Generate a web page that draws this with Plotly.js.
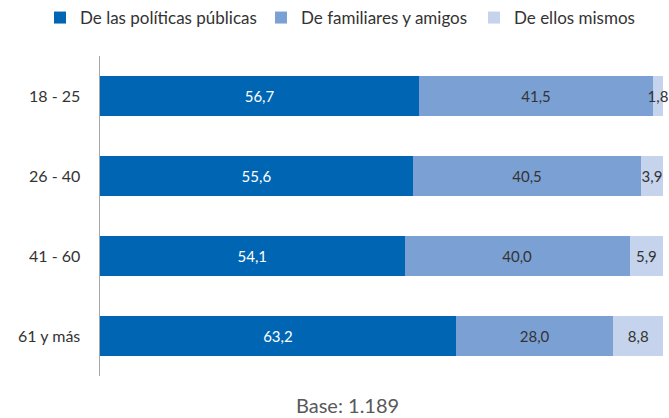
<!DOCTYPE html>
<html>
<head>
<meta charset="utf-8">
<script src="https://cdn.plot.ly/plotly-3.0.1.min.js"></script>
<style>html,body{margin:0;padding:0;background:#fff;}#chart{width:669px;height:418px;}</style>
</head>
<body>
<div id="chart"></div>
<script>
const categories = ["18 - 25", "26 - 40", "41 - 60", "61 y más"];
const politicas = [56.7, 55.6, 54.1, 63.2];
const familiares = [41.5, 40.5, 40.0, 28.0];
const ellos = [1.8, 3.9, 5.9, 8.8];
const seriesNames = ["De las políticas públicas", "De familiares y amigos", "De ellos mismos"];
const colors = ["#0066B3", "#7BA0D4", "#C5D3EC"];
const textColors = ["#FFFFFF", "#333333", "#333333"];
const baseNote = "Base: 1.189";

const FONT = "Lato, 'Open Sans', sans-serif";
const values = [politicas, familiares, ellos];
const legendIds = ["legend", "legend2", "legend3"];
const legendX = [40, 261, 474];

const traces = values.map((v, i) => ({
  type: "bar",
  orientation: "h",
  y: categories,
  x: v,
  name: seriesNames[i],
  legend: legendIds[i],
  marker: {color: colors[i], line: {width: 0}},
  text: v,
  texttemplate: "%{x:.1f}",
  textposition: "inside",
  insidetextanchor: "middle",
  textangle: 0,
  constraintext: "none",
  textfont: {family: FONT, size: 15, color: textColors[i]},
  hoverinfo: "none",
  cliponaxis: false
}));

const layout = {
  width: 669, height: 418,
  barmode: "stack",
  bargap: 0.49,
  separators: ",.",
  paper_bgcolor: "#fff",
  plot_bgcolor: "#fff",
  font: {family: FONT, size: 15, color: "#333"},
  margin: {l: 100, r: 6, t: 56, b: 42, pad: 0, autoexpand: false},
  showlegend: true,
  xaxis: {
    range: [0, 100],
    visible: false,
    fixedrange: true
  },
  yaxis: {
    autorange: "reversed",
    showline: true,
    linecolor: "#A6A6A6",
    linewidth: 1.5,
    showgrid: false,
    zeroline: false,
    ticks: "",
    ticklabelstandoff: 15,
    tickfont: {family: FONT, size: 16, color: "#333"}
  },
  annotations: [{
    text: baseNote,
    xref: "paper", yref: "paper",
    x: 0.439, xanchor: "center",
    y: -0.09, yanchor: "middle",
    showarrow: false,
    font: {family: FONT, size: 20, color: "#595959"}
  }]
};

legendIds.forEach((id, i) => {
  layout[id] = {
    orientation: "h",
    xref: "container", yref: "container",
    x: legendX[i] / 669, xanchor: "left",
    y: 1.0, yanchor: "top",
    font: {family: FONT, size: 17, color: "#333"},
    itemwidth: 30,
    bgcolor: "rgba(0,0,0,0)"
  };
});

Plotly.newPlot("chart", traces, layout, {displayModeBar: false, staticPlot: true});
</script>
</body>
</html>
